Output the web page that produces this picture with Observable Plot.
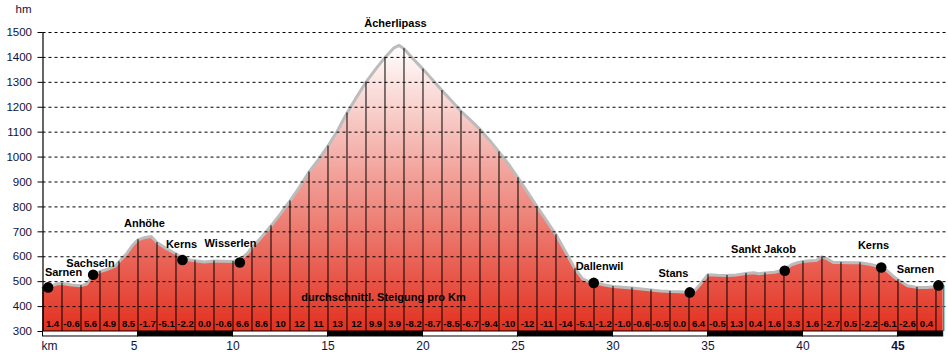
<!DOCTYPE html>
<html>
<head>
<meta charset="utf-8">
<script src="https://cdn.jsdelivr.net/npm/d3@7"></script>
<script src="https://cdn.jsdelivr.net/npm/@observablehq/plot@0.6"></script>
<style>
  body { margin: 0; background: #fff; }
  #chart svg { display: block; }
</style>
</head>
<body>
<div id="chart"></div>
<script>
// ---- data ----
const totalKm = 47.38;

const profileKm = [0,0.4,0.8,1,1.5,2,2.3,2.6,3,3.4,3.8,4,4.4,4.7,5,5.3,5.7,6,6.5,7,7.4,7.8,8,8.5,9,9.5,10,10.4,10.8,11,11.5,12,12.5,13,13.5,14,14.5,15,15.5,16,16.5,17,17.5,18,18.45,18.75,19,19.5,20,20.5,21,21.5,22,22.5,23,23.5,24,24.5,25,25.5,26,26.5,27,27.5,28,28.4,28.7,29,29.5,30,30.5,31,31.5,32,32.5,33,33.5,34,34.3,34.6,34.8,35,35.5,36,36.5,37,37.4,37.7,38,38.5,39,39.4,39.7,40,40.4,40.7,41,41.3,41.6,42,42.5,43,43.5,44,44.4,44.7,45,45.5,46,46.5,47,47.38];
const profileElev = [477,482,492,493,487,484,490,522,541,550,562,580,612,645,668,676,681,657,632,612,592,586,584,579,583,582,581,590,617,637,678,724,772,824,880,940,990,1044,1106,1177,1240,1301,1352,1400,1437,1448,1435,1393,1353,1310,1267,1226,1184,1148,1111,1068,1021,972,917,860,801,745,688,620,552,511,501,495,488,481,478,475,471,467,463,461,460,457,465,490,510,528,526,525,527,533,536,532,535,538,547,568,576,581,584,585,600,590,577,577,576,576,570,561,545,525,508,484,477,477,480,482];

// average gradient per km (%), one per km cell
const gradientLabels = ["1.4","-0.6","5.6","4.9","8.5","-1.7","-5.1","-2.2","0.0","-0.6","6.6","8.6","10","12","11","13","12","9.9","3.9","-8.2","-8.7","-8.5","-6.7","-9.4","-10","-12","-11","-14","-5.1","-1.2","-1.0","-0.6","-0.5","0.0","6.4","-0.5","1.3","0.4","1.6","3.3","1.6","-2.7","0.5","-2.2","-6.1","-2.6","0.4"];

// places with a dot
const placeNames = ["Sarnen","Sachseln","Kerns","Wisserlen","Dallenwil","Stans","Sankt Jakob","Kerns","Sarnen"];
const placeKm    = [0.27, 2.64, 7.34, 10.36, 28.99, 34.04, 39.04, 44.12, 47.13];
const placeElev  = [477, 528, 587, 577, 495, 457, 544, 557, 485];

// place labels (anchor in km / m)
const labelNames = ["Sarnen","Sachseln","Anhöhe","Kerns","Wisserlen","Ächerlipass","Dallenwil","Stans","Sankt Jakob","Kerns","Sarnen"];
const labelKm    = [1.08, 2.5, 5.34, 7.29, 9.87, 18.55, 29.29, 33.18, 37.92, 43.71, 45.92];
const labelElev  = [536, 573, 733, 651, 655, 1536, 561, 533, 629, 644, 547];

const yTicks = [300,400,500,600,700,800,900,1000,1100,1200,1300,1400,1500];
const gridTicks = [400,500,600,700,800,900,1000,1100,1200,1300,1400,1500];
const kmTicksPlain = [10,15,20,25,30,35,40];
const kmTickFirst = [5];
const kmTickBold = [45];
const stripEdges = [0,5,10,15,20,25,30,35,40,45,totalKm];

// ---- derived tables ----
const profile = profileKm.map((km, i) => ({km, elev: profileElev[i]}));
const kmLines = profile.filter(d => Number.isInteger(d.km));
const cells = gradientLabels.map((g, i) => ({km: i + 0.5, g}));
const places = placeNames.map((name, i) => ({name, km: placeKm[i], elev: placeElev[i]}));
const labels = labelNames.map((name, i) => ({name, km: labelKm[i], elev: labelElev[i]}));
const segments = stripEdges.slice(0, -1).map((x1, i) => ({x1, x2: stripEdges[i + 1], dark: i % 2 === 1}));
const endPoint = profile[profile.length - 1];

function gradientDefs() {
  const defs = d3.create("svg:defs");
  const lg = defs.append("linearGradient")
    .attr("id", "elevGrad").attr("x1", 0).attr("y1", 0).attr("x2", 0).attr("y2", 1);
  lg.append("stop").attr("offset", "0%").attr("stop-color", "#ffffff");
  lg.append("stop").attr("offset", "100%").attr("stop-color", "#e2301f");
  return defs.node();
}

const font = "'Liberation Sans', Arial, sans-serif";
const axisColor = "#10123a";
const kmLabel = {frameAnchor: "bottom", dy: 15, lineAnchor: "middle", fontSize: 12, fill: axisColor};

const chart = Plot.plot({
  width: 948,
  height: 357,
  marginLeft: 42.5,
  marginRight: 5.3,
  marginTop: 32,
  marginBottom: 26,
  style: {fontFamily: font, fontSize: "11px", background: "#fff", overflow: "visible"},
  x: {domain: [0, totalKm], axis: null},
  y: {domain: [300, 1500], axis: null},
  marks: [
    gradientDefs,
    Plot.areaY(profile, {x: "km", y1: 300, y2: "elev", fill: "url(#elevGrad)"}),
    Plot.line(profile, {x: "km", y: "elev", stroke: "#bcbcbc", strokeWidth: 3}),
    Plot.ruleY(gridTicks, {x1: 0, x2: totalKm + 0.15, stroke: "#000", strokeWidth: 1, strokeDasharray: "3,3"}),
    Plot.ruleX(kmLines, {x: "km", y1: 300, y2: "elev", stroke: "#000", strokeWidth: 1}),
    Plot.ruleX([endPoint], {x: "km", y1: 300, y2: "elev", stroke: "#139a9a", strokeWidth: 1.5, dx: 0.5}),
    Plot.ruleX([0], {y1: 300, y2: 1500, stroke: "#000", strokeWidth: 1.2}),
    Plot.axisY(yTicks, {tickSize: 5, tickPadding: 6, label: null, tickFormat: d => String(d), fontSize: 11.5, color: axisColor, stroke: "#000"}),
    Plot.rect(segments, {x1: "x1", x2: "x2", y1: 280, y2: 300, fill: d => d.dark ? "#000" : "#fff", stroke: "#000", strokeWidth: 1}),
    Plot.text(cells, {x: "km", text: "g", frameAnchor: "bottom", dy: -7.5, lineAnchor: "middle", fontWeight: "bold", fontSize: 9.5, fill: "#000"}),
    Plot.text(["durchschnittl. Steigung pro Km"], {x: 17.92, frameAnchor: "bottom", dy: -34, lineAnchor: "middle", fontWeight: "bold", fontSize: 11, fill: "#000"}),
    Plot.dot(places, {x: "km", y: "elev", r: 5.3, fill: "#000", stroke: "none"}),
    Plot.text(labels, {x: "km", y: "elev", text: "name", fontWeight: "bold", fontSize: 11, fill: "#000"}),
    Plot.text(kmTicksPlain, {x: d => d, text: d => String(d), ...kmLabel}),
    Plot.text(kmTickFirst, {x: d => d, text: d => String(d), ...kmLabel, dx: -4}),
    Plot.text(kmTickBold, {x: d => d, text: d => String(d), ...kmLabel, fontWeight: "bold"}),
    Plot.text(["km"], {x: 0, text: d => d, ...kmLabel, textAnchor: "start", dx: -1.5}),
    Plot.text(["hm"], {frameAnchor: "top-left", dx: -27.5, dy: -23, textAnchor: "start", lineAnchor: "middle", fontSize: 11.5, fill: axisColor})
  ]
});

document.getElementById("chart").append(chart);
</script>
</body>
</html>
